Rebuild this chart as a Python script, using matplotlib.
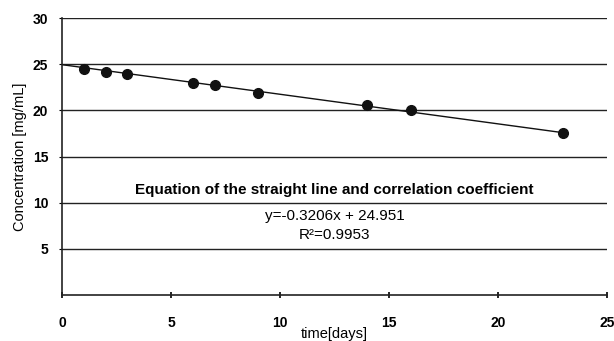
import numpy as np
import matplotlib.pyplot as plt

plt.rcParams['font.family'] = ['Liberation Sans', 'DejaVu Sans']

# measured data
days = [1, 2, 3, 6, 7, 9, 14, 16, 23]
conc = [24.5, 24.2, 23.9, 23.0, 22.7, 21.85, 20.55, 20.0, 17.58]

# regression line
slope = -0.3206
intercept = 24.951
fit_x = [0, 23]

xticks = [0, 5, 10, 15, 20, 25]
yticks = [5, 10, 15, 20, 25, 30]

fig = plt.figure(figsize=(6.14, 3.41), dpi=100)
ax = fig.add_axes([0.101, 0.135, 0.8876, 0.812])

for y in yticks:
    ax.axhline(y, color='#222222', linewidth=1.0, zorder=1)

fx = np.array(fit_x)
ax.plot(fx, slope * fx + intercept, color='#111111', linewidth=1.0, zorder=2)
ax.plot(days, conc, 'o', color='#111111', markersize=7, zorder=3)

ax.set_xlim(0, 25)
ax.set_ylim(0, 30)
ax.set_xticks(xticks)
ax.set_yticks(yticks)
for s in ['top', 'right']:
    ax.spines[s].set_visible(False)
for s in ['left', 'bottom']:
    ax.spines[s].set_linewidth(1.2)
    ax.spines[s].set_color('#222222')
ax.tick_params(axis='x', direction='inout', length=5, width=1.2, pad=13,
               labelsize=10)
ax.tick_params(axis='y', length=2, width=0.8, pad=8, labelsize=10)
for lbl in ax.get_xticklabels() + ax.get_yticklabels():
    lbl.set_fontweight('bold')

ax.set_xlabel('time[days]', fontsize=10.5, labelpad=-2.5)
ax.set_ylabel('Concentration [mg/mL]', fontsize=10.5, labelpad=4)

ax.text(12.5, 10.6, 'Equation of the straight line and correlation coefficient',
        ha='center', va='bottom', fontsize=11, fontweight='bold')
ax.text(12.5, 8.6, 'y=-0.3206x + 24.951', ha='center', va='center', fontsize=11)
ax.text(12.5, 6.5, 'R\u00b2=0.9953', ha='center', va='center', fontsize=11)

fig.savefig('out.png', dpi=100)
